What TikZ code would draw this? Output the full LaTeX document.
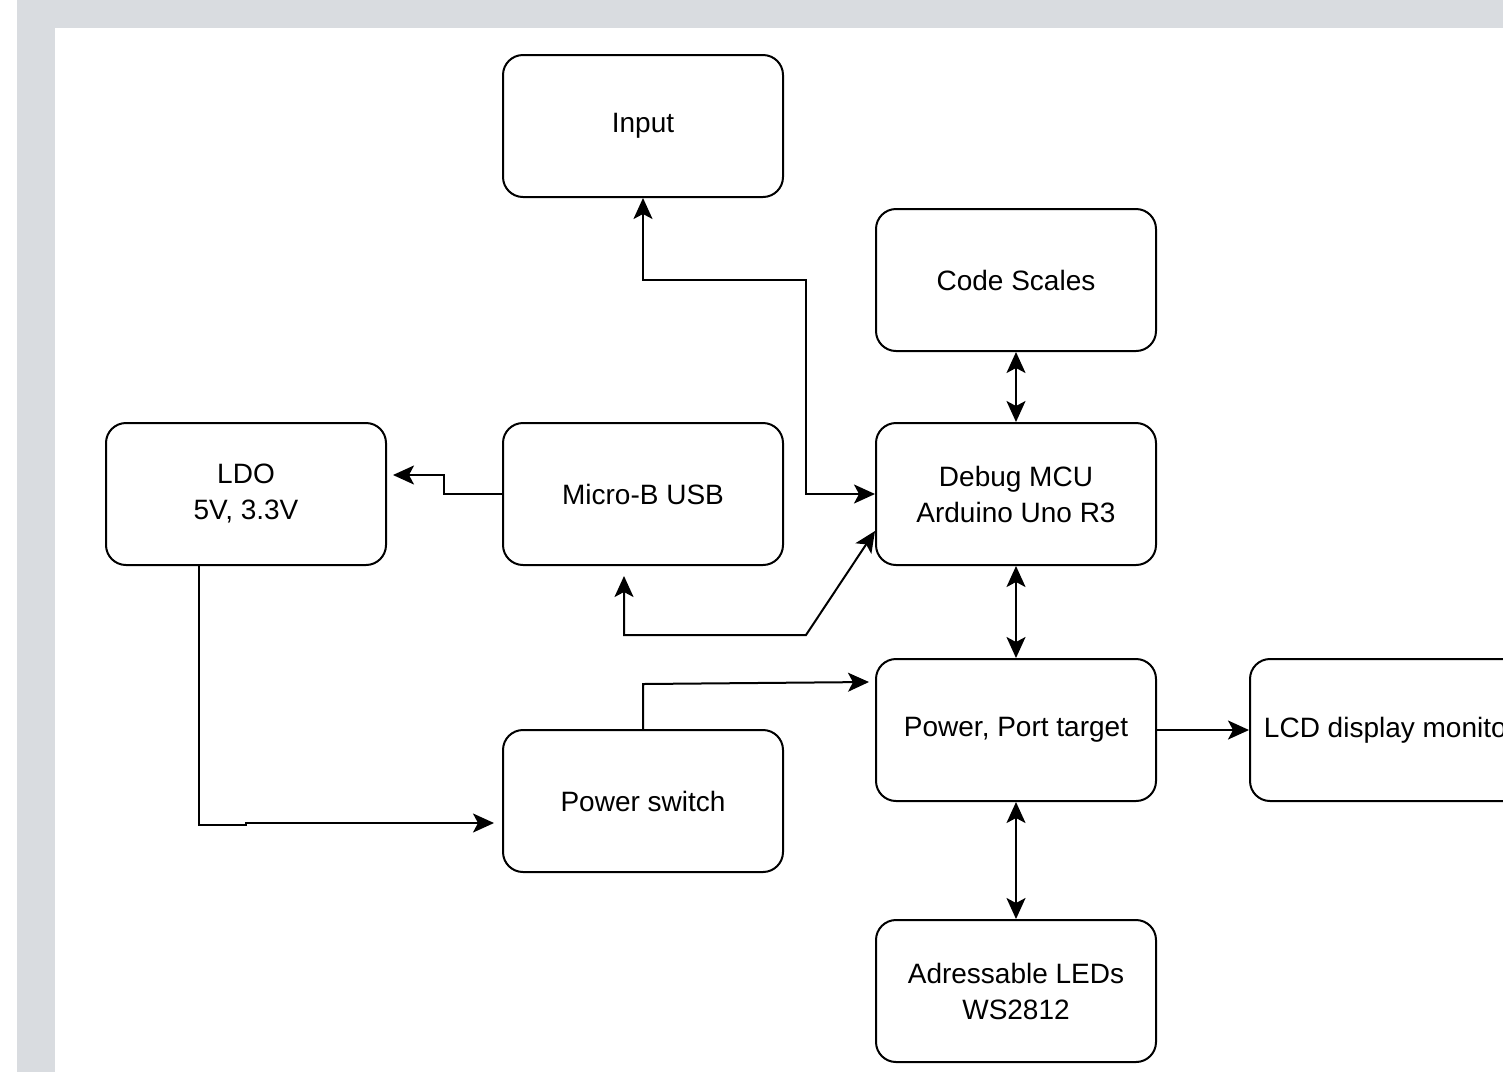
\documentclass[tikz,border=0pt]{standalone}
\usepackage{fontspec}
\setmainfont{Liberation Sans}
\usetikzlibrary{arrows.meta}
\definecolor{frame}{HTML}{D9DCE0}

\begin{document}
\begin{tikzpicture}[x=1pt,y=-1pt,
        box/.style={draw,line width=2pt,rounded corners=20pt,minimum width=280pt,
            minimum height=142pt,align=center,font=\fontsize{28}{36}\selectfont},
        wire/.style={line width=2pt,-{Stealth[length=21pt,width=19pt,inset=5pt]}},
        both/.style={line width=2pt,{Stealth[length=21pt,width=19pt,inset=5pt]}-{Stealth[length=21pt,width=19pt,inset=5pt]}}]
            \useasboundingbox (0,0) rectangle (1503,1072);
            \fill[frame] (17,0) rectangle (1503,1072);
            \fill[white] (55,28) rectangle (1503,1072);
            \clip (0,0) rectangle (1503,1072);

            \node[box] (input) at (643,126) {Input};
            \node[box] (scales) at (1016,280) {Code Scales};
            \node[box] (ldo) at (246,494) {LDO\\5V, 3.3V};
            \node[box] (usb) at (643,494) {Micro-B USB};
            \node[box] (debug) at (1016,494) {Debug MCU\\Arduino Uno R3};
            \node[box] (power) at (1016,730) {Power, Port target};
            \node[box] (lcd) at (1390,730) {LCD display monitor};
            \node[box] (pwrsw) at (643,801) {Power switch};
            \node[box] (leds) at (1016,991) {Adressable LEDs\\WS2812};

            \coordinate (ldoin) at (393,475);
            \coordinate (usbin) at (624,576);
            \coordinate (dbgin) at (875,531);
            \coordinate (swin) at (494,823);
            \coordinate (pwrin) at (869,682);

            \draw[wire] (usb.west) -- ++(-58,0) |- (ldoin);
            \draw[both] (input.south) |- (806,280) |- (debug.west);
            \draw[both] (usbin) |- (806,635) -- (dbgin);
            \foreach \a/\b in {scales/debug,debug/power,power/leds}{
                \draw[both] (\a.south) -- (\b.north);
            }
            \draw[wire] (power.east) -- (lcd.west);
            \draw[wire] ([xshift=-47pt]ldo.south) |- (246,825) -- (246,823) -- (swin);
            \draw[wire] (pwrsw.north) -- (643,684) -- (pwrin);
        \end{tikzpicture}
\end{document}
